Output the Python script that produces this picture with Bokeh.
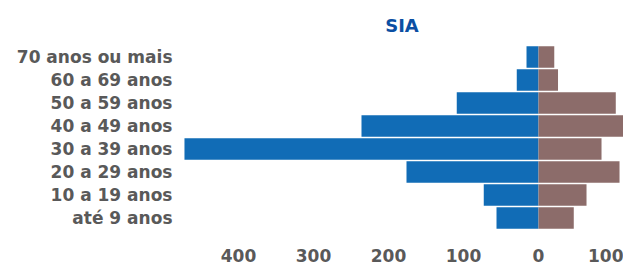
from bokeh.plotting import figure
from bokeh.models import Range1d, FactorRange, FixedTicker
from bokeh.embed import file_html
from bokeh.resources import INLINE

categories = ["até 9 anos", "10 a 19 anos", "20 a 29 anos", "30 a 39 anos",
              "40 a 49 anos", "50 a 59 anos", "60 a 69 anos", "70 anos ou mais"]
masc = [56, 73, 176, 472, 236, 109, 29, 16]
fem = [47, 64, 108, 84, 120, 103, 26, 21]
ticks = [-400, -300, -200, -100, 0, 100]
tick_labels = {-400: "400", -300: "300", -200: "200", -100: "100", 0: "0", 100: "100"}

FONT = "DejaVu Sans"
GRAY = "#595959"

p = figure(width=623, height=264, output_backend="svg", toolbar_location=None,
           x_range=Range1d(-477.3, 113.3),
           y_range=FactorRange(factors=categories, range_padding=0),
           min_border_left=180, min_border_right=0, min_border_top=45, min_border_bottom=29)

p.hbar(y=categories, left=[-v for v in masc], right=0, height=0.93,
       fill_color="#116cb6", line_color=None)
p.hbar(y=categories, left=0, right=fem, height=0.93,
       fill_color="#8c6c6a", line_color=None)

p.outline_line_color = None
p.grid.visible = False
p.background_fill_color = "white"
p.border_fill_color = "white"

p.title.text = "SIA"
p.title.align = "center"
p.title.offset = 4
p.title.standoff = 20
p.title.text_font = FONT
p.title.text_font_style = "bold"
p.title.text_font_size = "18px"
p.title.text_color = "#0b4fa3"

p.xaxis.ticker = FixedTicker(ticks=ticks)
p.xaxis.major_label_overrides = tick_labels
p.xaxis.axis_line_color = None
p.xaxis.major_tick_line_color = None
p.xaxis.minor_tick_line_color = None
p.xaxis.major_label_standoff = 13
p.xaxis.major_label_text_font = FONT
p.xaxis.major_label_text_font_style = "bold"
p.xaxis.major_label_text_font_size = "17px"
p.xaxis.major_label_text_color = GRAY

p.yaxis.axis_line_color = None
p.yaxis.major_tick_line_color = None
p.yaxis.minor_tick_line_color = None
p.yaxis.major_label_standoff = 2
p.yaxis.major_label_text_font = FONT
p.yaxis.major_label_text_font_style = "bold"
p.yaxis.major_label_text_font_size = "17px"
p.yaxis.major_label_text_color = GRAY

open("out.html", "w").write(file_html(p, INLINE))
